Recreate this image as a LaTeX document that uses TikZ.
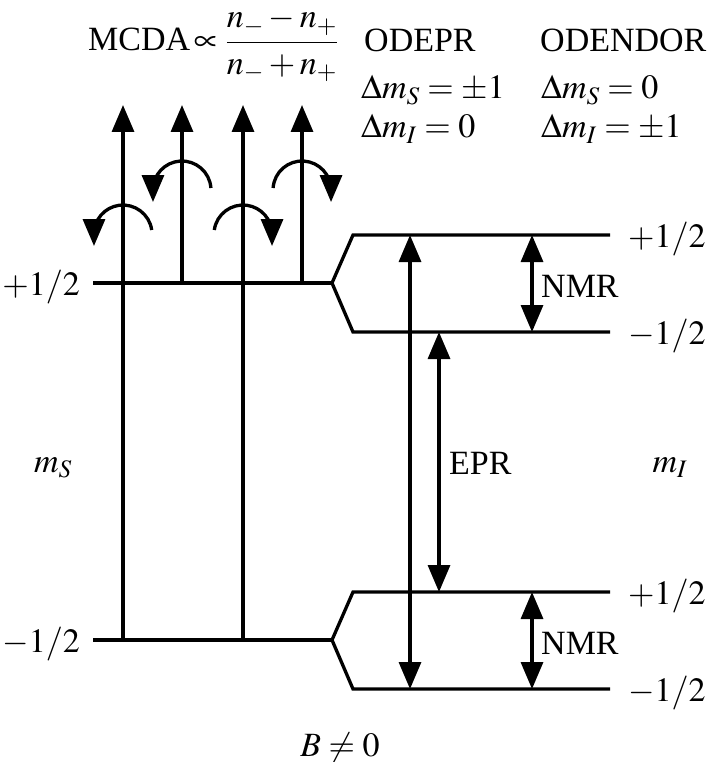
\documentclass[tikz,border=0pt]{standalone}
\usepackage{mathptmx}
\usepackage{fontspec}
\setmainfont{Liberation Serif}
\usetikzlibrary{arrows.meta}
\begin{document}
\begin{tikzpicture}[x=1pt,y=-1pt,
  bigtip/.tip={Triangle[length=27pt,width=22pt]},
  lvl/.style={line width=3.3pt, line join=miter},
  arr/.style={line width=3.3pt,-bigtip},
  darr/.style={line width=3.3pt,bigtip-bigtip},
  txt/.style={inner sep=0pt, font=\fontsize{34}{40}\selectfont}]
\useasboundingbox (0,0) rectangle (713,762);
% levels
\coordinate (U0) at (93,283); \coordinate (UF) at (332,283);
\coordinate (UT0) at (353,235); \coordinate (UT1) at (610,235);
\coordinate (UB0) at (353,332); \coordinate (UB1) at (610,332);
\coordinate (L0) at (93,640); \coordinate (LF) at (332,640);
\coordinate (LT0) at (353,592); \coordinate (LT1) at (610,592);
\coordinate (LB0) at (353,689); \coordinate (LB1) at (610,689);
\draw[lvl] (UT1) -- (UT0) -- (UF) -- (UB0) -- (UB1);
\draw[lvl] (U0) -- (UF);
\draw[lvl] (LT1) -- (LT0) -- (LF) -- (LB0) -- (LB1);
\draw[lvl] (L0) -- (LF);
% vertical arrows
\coordinate (v1b) at (123,640); \coordinate (v1t) at (123,105);
\coordinate (v2b) at (182,283); \coordinate (v2t) at (182,105);
\coordinate (v3b) at (243,640); \coordinate (v3t) at (243,105);
\coordinate (v4b) at (302,283); \coordinate (v4t) at (302,105);
\draw[arr] (v1b) -- (v1t);
\draw[arr] (v2b) -- (v2t);
\draw[arr] (v3b) -- (v3t);
\draw[arr] (v4b) -- (v4t);
% curved arrows
\coordinate (c1) at (151.7,230);
\coordinate (c2) at (210.9,188);
\coordinate (c3) at (214.3,230);
\coordinate (c4) at (273.1,188);
\draw[arr] (c1) arc[start angle=-8, end angle=-180, radius=29] -- ++(0,12);
\draw[arr] (c2) arc[start angle=-4, end angle=-180, radius=29] -- ++(0,12);
\draw[arr] (c3) arc[start angle=-172, end angle=0, radius=29] -- ++(0,12);
\draw[arr] (c4) arc[start angle=-176, end angle=0, radius=29] -- ++(0,12);
% transitions
\coordinate (e1t) at (410,235); \coordinate (e1b) at (410,689);
\coordinate (e2t) at (439,332); \coordinate (e2b) at (439,592);
\coordinate (n1t) at (532,235); \coordinate (n1b) at (532,332);
\coordinate (n2t) at (532,592); \coordinate (n2b) at (532,689);
\draw[darr] (e1t) -- (e1b);
\draw[darr] (e2t) -- (e2b);
\draw[darr] (n1t) -- (n1b);
\draw[darr] (n2t) -- (n2b);
% texts
\node[txt,anchor=base west] (mcda) at (88,51) {MCDA$\,\propto\displaystyle\frac{n_- - n_+}{n_- + n_+}$};
\node[txt,anchor=base west] (odepr) at (364,52) {ODEPR};
\node[txt,anchor=base west] (odendor) at (540,52) {ODENDOR};
\node[txt,anchor=base west] (d1) at (361,99) {$\Delta m_S = \pm 1$};
\node[txt,anchor=base west] (d2) at (361,138) {$\Delta m_I = 0$};
\node[txt,anchor=base west] (d3) at (541,99) {$\Delta m_S = 0$};
\node[txt,anchor=base west] (d4) at (541,138) {$\Delta m_I = \pm 1$};
\node[txt,anchor=base east] (lu) at (80,295) {$+1/2$};
\node[txt,anchor=base east] (ll) at (80,652) {$-1/2$};
\node[txt,anchor=base west] (r1) at (628,247) {$+1/2$};
\node[txt,anchor=base west] (r2) at (628,344) {$-1/2$};
\node[txt,anchor=base west] (r3) at (628,604) {$+1/2$};
\node[txt,anchor=base west] (r4) at (628,701) {$-1/2$};
\node[txt,anchor=base] (ms) at (53,472) {$m_S$};
\node[txt,anchor=base] (mi) at (670,472) {$m_I$};
\node[txt,anchor=base west] (nmr1) at (541,297) {NMR};
\node[txt,anchor=base west] (nmr2) at (541,654) {NMR};
\node[txt,anchor=base west] (epr) at (449,474) {EPR};
\node[txt,anchor=base] (bfield) at (340,756) {$B\neq 0$};
\end{tikzpicture}
\end{document}
